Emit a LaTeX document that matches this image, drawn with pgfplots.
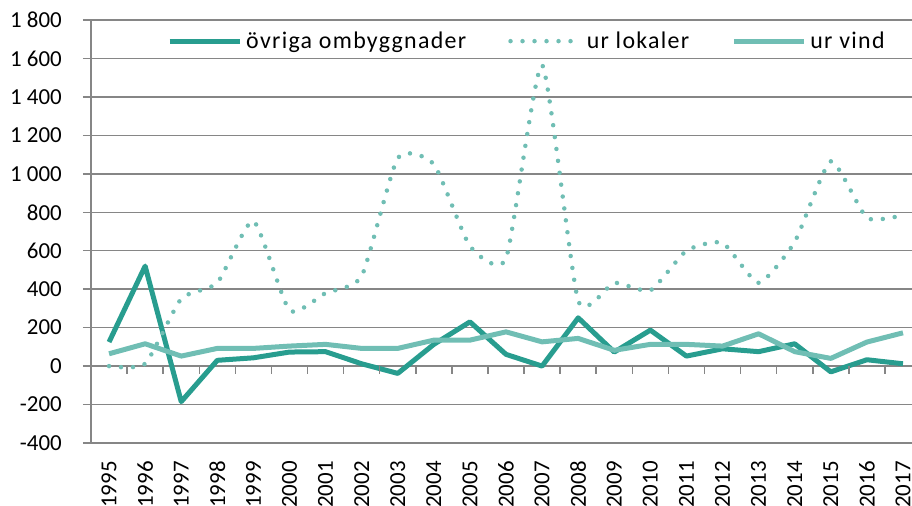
\documentclass[border=0pt]{standalone}
\usepackage{fontspec}
\setmainfont{Carlito}
\usepackage{pgfplots}
\pgfplotsset{compat=1.18}
\definecolor{dteal}{RGB}{40,157,143}
\definecolor{lteal}{RGB}{112,190,180}
\definecolor{gridc}{RGB}{134,134,134}
\begin{document}
\begin{tikzpicture}
\useasboundingbox (-91bp,-63bp) rectangle (821bp,443bp);
\begin{axis}[
  scale only axis, width=821bp, height=423bp,
  xmin=-0.5, xmax=22.25, ymin=-400, ymax=1800,
  ytick={-400,-200,...,1800},
  xtick={0,...,22},
  xticklabels={1995,1996,1997,1998,1999,2000,2001,2002,2003,2004,2005,2006,2007,2008,2009,2010,2011,2012,2013,2014,2015,2016,2017},
  axis lines*=left,
  x axis line style={draw=none},
  y axis line style={gridc, line width=1.5bp},
  xtick style={draw=none},
  ytick style={gridc, line width=1.5bp},
  tick align=outside,
  major tick length=8bp,
  ymajorgrids,
  grid style={gridc, line width=1.5bp},
  /pgf/number format/assume math mode=true,
  /pgf/number format/1000 sep={\hspace{0.226em}},
  tick label style={font=\fontsize{23}{23}\selectfont, black},
  yticklabel style={inner sep=0pt, xshift=-21bp},
  xticklabel style={rotate=90, anchor=east, inner sep=0pt},
  xticklabel shift=10bp,
  legend columns=3,
  legend style={at={(0.0926,0.95)}, anchor=west, draw=none, fill=none, inner sep=0pt,
    font=\fontsize{24}{24}\selectfont\addfontfeature{LetterSpace=5.5},
    nodes={inner xsep=4bp},
    /tikz/every even column/.append style={column sep=38bp}},
  legend image code/.code={\draw[#1] (0bp,0bp) -- (70bp,0bp);},
]
\addplot[dteal, line width=5bp, line join=round] coordinates {
(0,125)(1,520)(2,-185)(3,30)(4,43)(5,73)(6,75)(7,12)(8,-38)(9,113)(10,230)(11,61)
(12,0)(13,251)(14,73)(15,187)(16,52)(17,90)(18,75)(19,116)(20,-30)(21,33)(22,12)};
\addlegendentry{övriga ombyggnader}
\addplot[lteal, line width=4.5bp, line cap=round, dash pattern=on 0bp off 12bp, smooth, tension=0.33] coordinates {
(0,0)(1,12)(2,350)(3,433)(4,755)(5,290)(6,380)(7,468)(8,1082)(9,1050)(10,624)(11,560)
(12,1565)(13,340)(14,433)(15,394)(16,600)(17,641)(18,433)(19,646)(20,1065)(21,771)(22,785)};
\addlegendentry{ur lokaler}
\addplot[lteal, line width=5bp, line join=round] coordinates {
(0,64)(1,116)(2,52)(3,92)(4,92)(5,104)(6,113)(7,92)(8,92)(9,135)(10,135)(11,178)
(12,126)(13,144)(14,82)(15,113)(16,113)(17,104)(18,168)(19,75)(20,40)(21,125)(22,173)};
\addlegendentry{ur vind}
\pgfplotsinvokeforeach{0,...,21}{
  \draw[gridc, line width=1.5bp] (axis cs:#1+0.5,0) -- ([yshift=-8bp]axis cs:#1+0.5,0);
}
\end{axis}
\end{tikzpicture}
\end{document}
